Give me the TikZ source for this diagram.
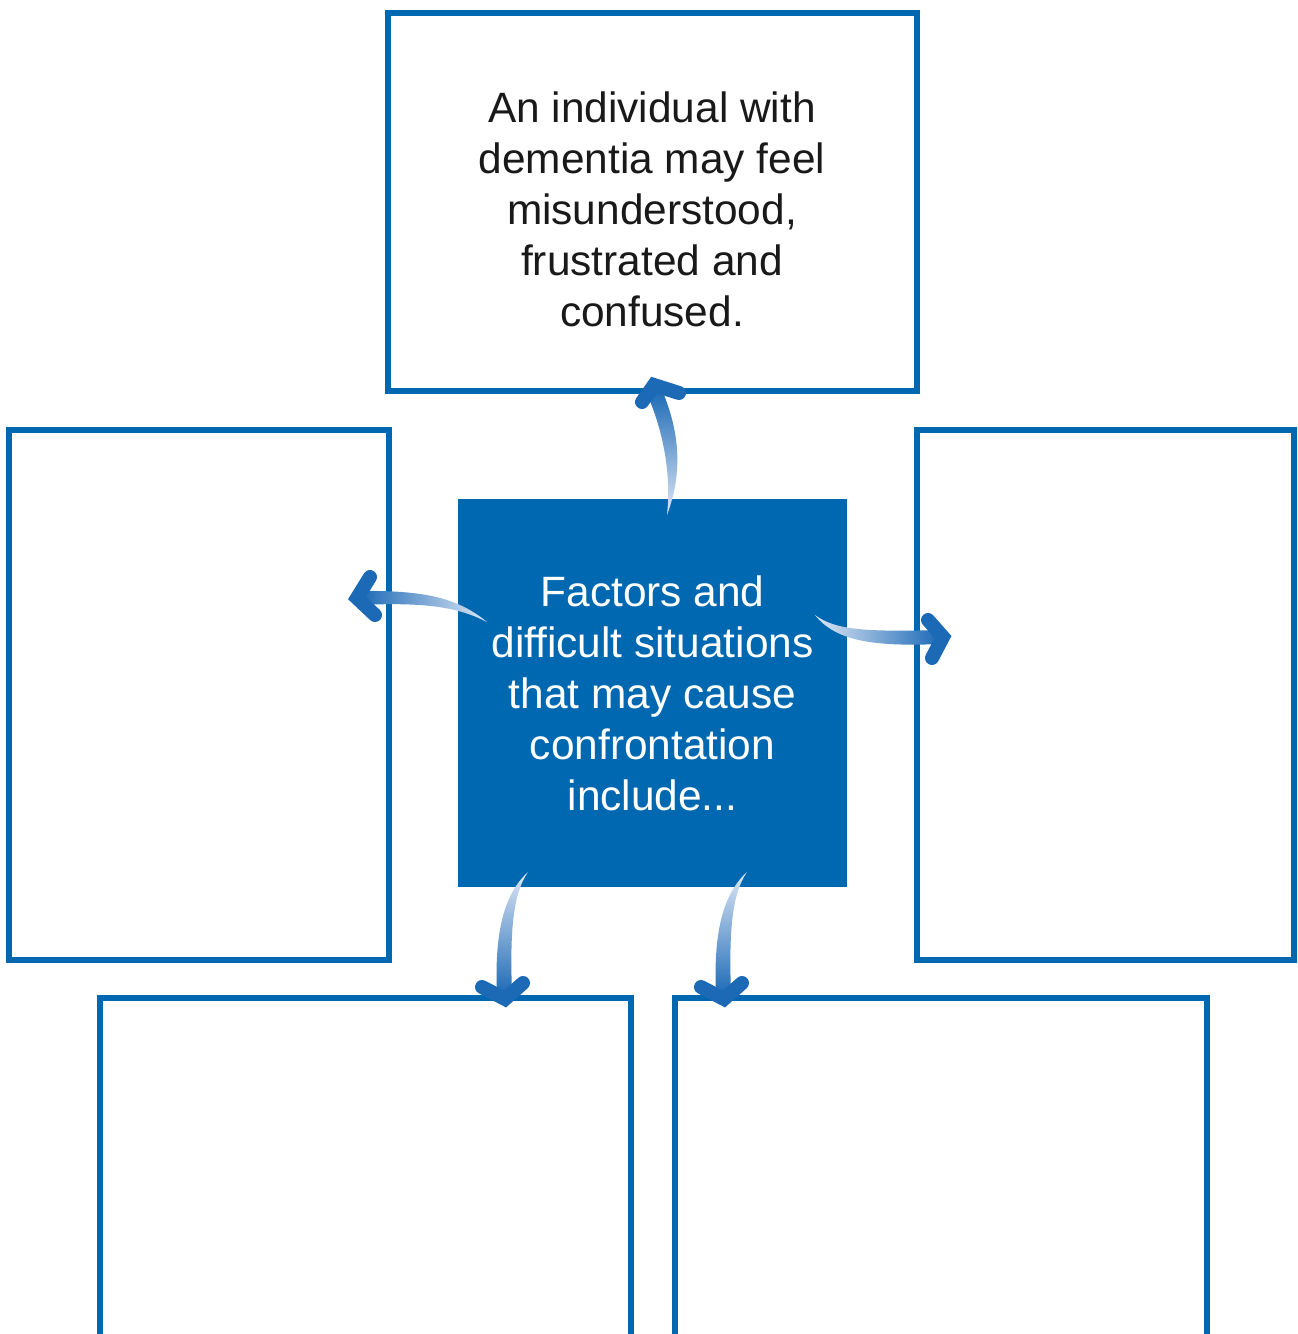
\documentclass[tikz,border=0pt]{standalone}
\usepackage{fontspec}
\setmainfont{Liberation Sans}
\definecolor{boxblue}{RGB}{0,104,176}
\definecolor{arrdark}{RGB}{28,106,182}
\definecolor{arrlight}{RGB}{222,231,245}
\begin{document}
\begin{tikzpicture}[x=0.5pt,y=-0.5pt,
  outlinebox/.style={draw=boxblue,line width=3pt,line join=miter,rectangle,inner sep=0pt},
  openbox/.style={draw=none,rectangle,inner sep=0pt},
  boxline/.style={draw=boxblue,line width=3pt,line join=miter},
  centerbox/.style={fill=boxblue,draw=none,rectangle,inner sep=0pt,text=white,align=center,
    font=\fontsize{21.2pt}{25.5pt}\selectfont},
  bodytext/.style={align=center,text=black!90,font=\fontsize{21.2pt}{25.5pt}\selectfont},
  arrhead/.style={draw=arrdark,line width=7pt,line cap=round,line join=miter},
]
\useasboundingbox (0,0) rectangle (1297,1334);
\fill[white] (0,0) rectangle (1297,1334);

% boxes
\node[outlinebox,minimum width=264.5pt,minimum height=189pt] (top) at (652.5,202) {};
\node[outlinebox,minimum width=190pt,minimum height=265pt] (left) at (199,695) {};
\node[outlinebox,minimum width=188.5pt,minimum height=265pt] (right) at (1105.5,695) {};
\node[centerbox,minimum width=194.5pt,minimum height=194pt] (center) at (652.5,693)
  {Factors and\\difficult situations\\that may cause\\confrontation\\include...};
\node[openbox,minimum width=265.5pt,minimum height=168pt] (bl) at (365.5,1166) {};
\node[openbox,minimum width=266pt,minimum height=168pt] (br) at (941,1166) {};
\draw[boxline] (bl.south west) -- (bl.north west) -- (bl.north east) -- (bl.south east);
\draw[boxline] (br.south west) -- (br.north west) -- (br.north east) -- (br.south east);

\node[bodytext] (toptext) at (652,209)
  {An individual with\\dementia may feel\\misunderstood,\\frustrated and\\confused.};

% arrow coordinates
\coordinate (upTail) at (667,515);
\coordinate (upTip) at (654,385);
\coordinate (lfTail) at (487,622);
\coordinate (lfTip) at (357,598);
\coordinate (rtTail) at (815,615);
\coordinate (rtTip) at (943,637);
\coordinate (blTail) at (528,872);
\coordinate (blTip) at (505,999);
\coordinate (brTail) at (747,872);
\coordinate (brTip) at (724,999);

% up arrow (center -> top)
\shade[top color=arrdark,bottom color=arrlight]
  (upTail) .. controls (682,475) and (681,435) .. (662,390)
  -- (647,394) .. controls (665,435) and (671,478) .. (upTail) -- cycle;
\draw[arrhead] (642,402) -- (upTip) -- (679,393);

% left arrow (center -> left)
\shade[left color=arrdark,right color=arrlight]
  (lfTail) .. controls (460,600) and (430,590) .. (360,591)
  -- (360,605) .. controls (425,602) and (458,607) .. (lfTail) -- cycle;
\draw[arrhead] (370,577) -- (lfTip) -- (375,615);

% right arrow (center -> right)
\shade[right color=arrdark,left color=arrlight]
  (rtTail) .. controls (835,630) and (865,632) .. (940,630)
  -- (940,644) .. controls (870,647) and (835,640) .. (rtTail) -- cycle;
\draw[arrhead] (928,620) -- (rtTip) -- (932,658);

% bottom-left arrow (center -> bl)
\shade[bottom color=arrdark,top color=arrlight]
  (blTail) .. controls (505,893) and (494,930) .. (497,995)
  -- (512,995) .. controls (510,935) and (512,895) .. (blTail) -- cycle;
\draw[arrhead] (482,987) -- (blTip) -- (523,983);

% bottom-right arrow (center -> br)
\shade[bottom color=arrdark,top color=arrlight]
  (brTail) .. controls (724,893) and (713,930) .. (716,995)
  -- (731,995) .. controls (729,935) and (731,895) .. (brTail) -- cycle;
\draw[arrhead] (701,987) -- (brTip) -- (742,983);
\end{tikzpicture}
\end{document}
